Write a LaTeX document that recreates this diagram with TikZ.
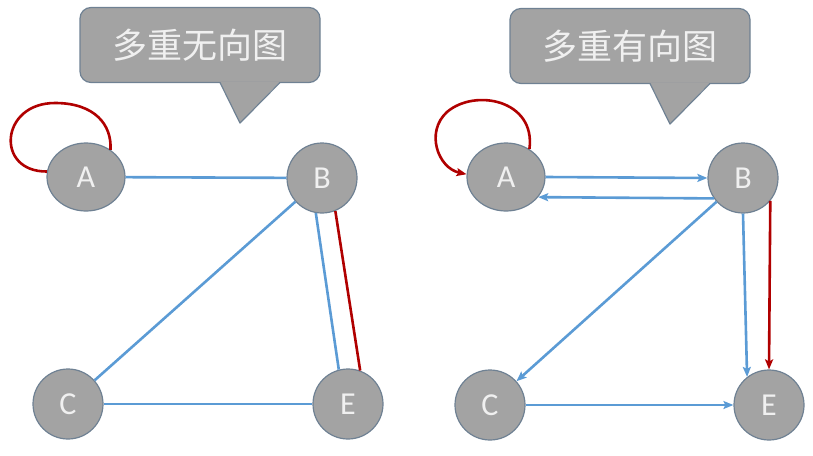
\documentclass[tikz,border=0pt]{standalone}
\usepackage{fontspec}
\setmainfont{Carlito}
\newfontfamily\cjk{Noto Sans CJK SC}
\usetikzlibrary{arrows.meta,shapes.geometric}
\definecolor{nodegray}{HTML}{A3A3A3}
\definecolor{nodeline}{HTML}{6F8193}
\definecolor{edgeblue}{HTML}{5B9BD5}
\definecolor{edgered}{HTML}{B00000}
\definecolor{textwhite}{HTML}{F0F0F0}
\tikzset{
  vert/.style={ellipse, draw=nodeline, line width=1.2pt, fill=nodegray,
    minimum width=70pt, minimum height=70pt, inner sep=0pt,
    text=textwhite, font=\fontsize{32}{32}\selectfont},
  callbox/.style={rectangle, rounded corners=11pt, draw=nodeline, line width=1.2pt,
    fill=nodegray, minimum width=240pt, minimum height=75pt,
    text=textwhite, font=\cjk\fontsize{35}{35}\selectfont},
  bl/.style={draw=edgeblue, line width=2.6pt},
  rd/.style={draw=edgered, line width=2.6pt},
  tip/.style={-{Stealth[length=10pt,width=8pt,inset=2pt]}}
}
\begin{document}
\begin{tikzpicture}[x=1pt,y=-1pt]
\useasboundingbox (0,0) rectangle (813,455);

% ---------- left: undirected multigraph ----------
\node[callbox] (t1) at (200,45) {多重无向图};
\fill[nodegray] ([xshift=20pt,yshift=1.5pt]t1.south) -- ([xshift=40pt,yshift=-40pt]t1.south) -- ([xshift=80pt,yshift=1.5pt]t1.south) -- cycle;
\draw[nodeline, line width=1.2pt, line join=round] ([xshift=20pt,yshift=0.6pt]t1.south) -- ([xshift=40pt,yshift=-40pt]t1.south) -- ([xshift=80pt,yshift=0.6pt]t1.south);

\node[vert, minimum width=78pt, minimum height=68pt] (A1) at (86,177) {A};
\node[vert] (B1) at (322,178) {B};
\node[vert] (C1) at (68,404) {C};
\node[vert] (E1) at (348,404) {E};

\draw[rd] (A1.172) .. controls (-5,172) and (0,103) .. (55,103) .. controls (95,103) and (112,125) .. (A1.48);
\draw[bl] (A1) -- (B1);
\draw[bl] (B1) -- (C1);
\draw[bl] (C1) -- (E1);
\draw[bl] (B1.-100) -- (E1.105);
\draw[rd] (B1.-68) -- (E1.70);

% ---------- right: directed multigraph ----------
\node[callbox] (t2) at (630,46) {多重有向图};
\fill[nodegray] ([xshift=20pt,yshift=1.5pt]t2.south) -- ([xshift=40pt,yshift=-40pt]t2.south) -- ([xshift=80pt,yshift=1.5pt]t2.south) -- cycle;
\draw[nodeline, line width=1.2pt, line join=round] ([xshift=20pt,yshift=0.6pt]t2.south) -- ([xshift=40pt,yshift=-40pt]t2.south) -- ([xshift=80pt,yshift=0.6pt]t2.south);

\node[vert, minimum width=78pt, minimum height=68pt] (A2) at (506,177) {A};
\node[vert] (B2) at (743,178) {B};
\node[vert] (C2) at (490,405) {C};
\node[vert] (E2) at (769,405) {E};

\draw[rd, tip] (A2.50) .. controls (536,100) and (475,88) .. (447,112) .. controls (425,132) and (438,168) .. (A2.176);
\draw[bl, tip] (A2.east) -- (B2.west);
\draw[bl, tip] (B2.215) -- (A2.-32);
\draw[bl, tip] (B2) -- (C2);
\draw[bl, tip] (C2) -- (E2);
\draw[bl, tip] (B2.south) -- (E2.128);
\draw[rd, tip] (B2.-40) -- (E2.north);
\end{tikzpicture}
\end{document}
